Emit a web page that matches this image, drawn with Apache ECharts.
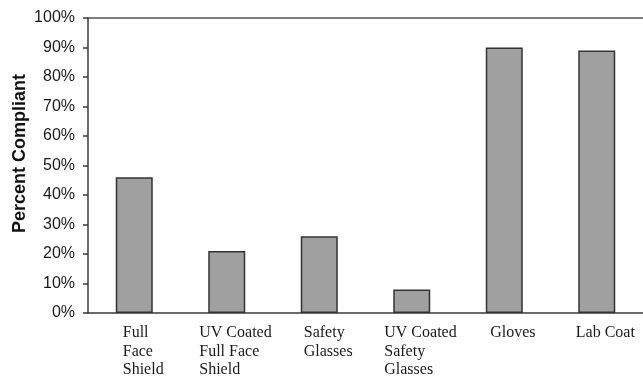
<!DOCTYPE html>
<html>
<head>
<meta charset="utf-8">
<script src="https://cdn.jsdelivr.net/npm/echarts@6/dist/echarts.min.js"></script>
<style>html,body{margin:0;padding:0;background:#fff}#c{width:643px;height:378px}</style>
</head>
<body>
<div id="c"></div>
<script>
const categories = ['Full Face Shield', 'UV Coated Full Face Shield', 'Safety Glasses', 'UV Coated Safety Glasses', 'Gloves', 'Lab Coat'];
const labelLines = [['Full', 'Face', 'Shield'], ['UV Coated', 'Full Face', 'Shield'], ['Safety', 'Glasses'], ['UV Coated', 'Safety', 'Glasses'], ['Gloves'], ['Lab Coat']];
const compliance = [46, 21, 26, 8, 90, 89];
const yMin = 0, yMax = 100, yStep = 10;
const yTitle = 'Percent Compliant';

const serif = '"Liberation Serif", "Times New Roman", serif';
const sans = '"Liberation Sans", Arial, sans-serif';
const ctx = document.createElement('canvas').getContext('2d');
ctx.font = '16px ' + serif;
const rich = {};
labelLines.forEach((lines, i) => {
  const w = Math.max(...lines.map(l => ctx.measureText(l).width));
  rich['r' + i] = { width: Math.ceil(w), align: 'left', fontFamily: serif, fontSize: 16, lineHeight: 18.5, color: '#1a1a1a' };
});

const chart = echarts.init(document.getElementById('c'), null, { renderer: 'canvas' });
chart.setOption({
  animation: false,
  grid: { left: 88, right: 0, top: 18, bottom: 65, containLabel: false, outerBoundsMode: 'none' },
  xAxis: [{
    type: 'category',
    data: categories,
    axisLine: { lineStyle: { color: '#3a3a3a', width: 1.5 } },
    axisTick: { show: false },
    axisLabel: {
      interval: 0,
      margin: 11,
      padding: [0, 0, 0, 18],
      formatter: (v, i) => labelLines[i].map(l => '{r' + i + '|' + l + '}').join('\n'),
      rich: rich
    },
    splitLine: { show: false }
  }, {
    type: 'category',
    position: 'top',
    data: categories,
    axisLine: { show: true, lineStyle: { color: '#555', width: 1.5 } },
    axisTick: { show: false },
    axisLabel: { show: false },
    splitLine: { show: false }
  }],
  yAxis: {
    type: 'value',
    min: yMin, max: yMax, interval: yStep,
    name: yTitle,
    nameLocation: 'middle',
    nameGap: 59,
    nameMoveOverlap: false,
    nameTextStyle: { fontFamily: sans, fontWeight: 'bold', fontSize: 18, color: '#111', padding: [0, 0, 0, 24] },
    axisLine: { show: true, lineStyle: { color: '#3a3a3a', width: 1.5 } },
    axisTick: { show: true, length: 5, lineStyle: { color: '#3a3a3a', width: 1.5 } },
    axisLabel: { formatter: '{value}%', margin: 13, fontFamily: sans, fontSize: 16, color: '#1a1a1a' },
    splitLine: { show: false }
  },
  series: [{
    type: 'bar',
    xAxisIndex: 0,
    data: compliance,
    barWidth: '40%',
    itemStyle: { color: '#a0a0a0', borderColor: '#333', borderWidth: 1.5 }
  }]
});
</script>
</body>
</html>
